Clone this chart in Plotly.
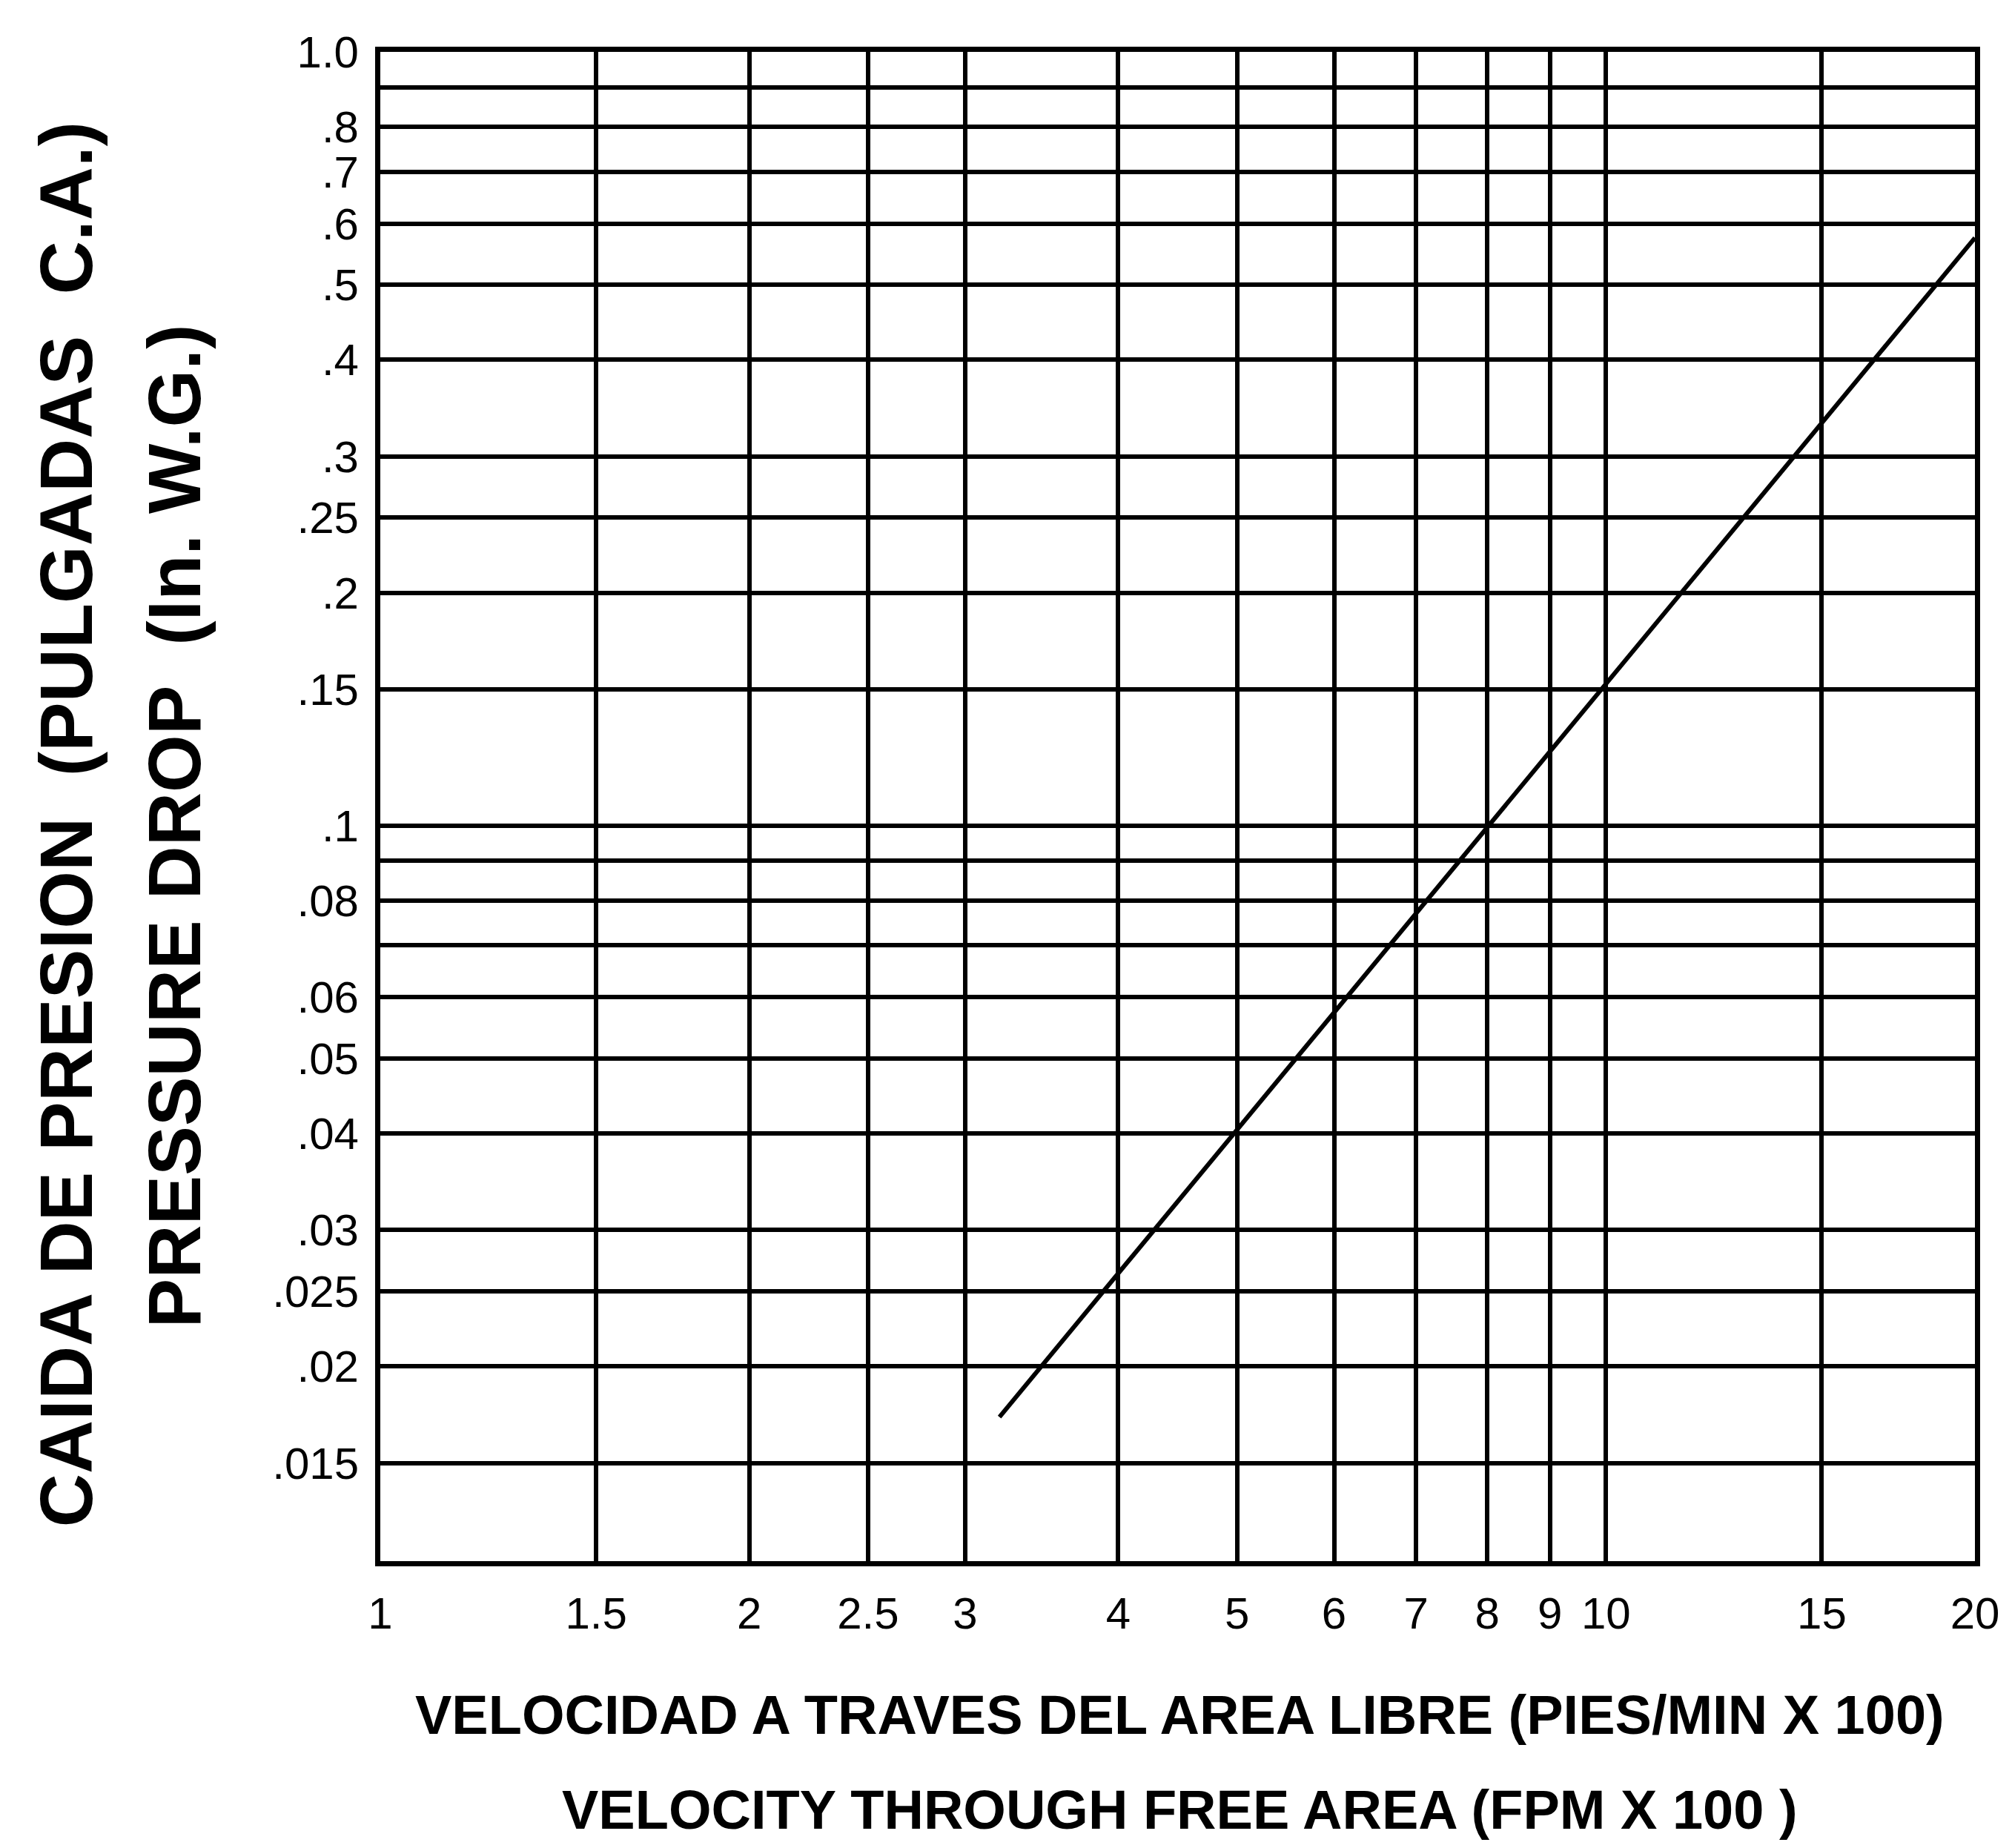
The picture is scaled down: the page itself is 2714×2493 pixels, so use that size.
import math
import plotly.graph_objects as go

# ---- data ----
velocity = [3.2, 20]             # FPM x 100 (line end points)
pressure_drop = [0.0172, 0.575]  # in. W.G.

x_tick_values = [1, 1.5, 2, 2.5, 3, 4, 5, 6, 7, 8, 9, 10, 15, 20]
x_tick_labels = ["1", "1.5", "2", "2.5", "3", "4", "5", "6", "7", "8", "9", "10", "15", "20"]

y_tick_values = [1.0, 0.9, 0.8, 0.7, 0.6, 0.5, 0.4, 0.3, 0.25, 0.2, 0.15,
                 0.1, 0.09, 0.08, 0.07, 0.06, 0.05, 0.04, 0.03, 0.025, 0.02, 0.015]
y_tick_labels = ["1.0", "", ".8", ".7", ".6", ".5", ".4", ".3", ".25", ".2", ".15",
                 ".1", "", ".08", "", ".06", ".05", ".04", ".03", ".025", ".02", ".015"]

x_range = [1, 20]
y_range = [0.0112, 1.0]

y_title_es = "CAIDA DE PRESION  (PULGADAS  C.A.)"
y_title_en = "PRESSURE DROP  (In. W.G.)"
x_title_es = "VELOCIDAD A TRAVES DEL AREA LIBRE (PIES/MIN X 100)"
x_title_en = "VELOCITY THROUGH FREE AREA (FPM X 100 )"

FONT = "Liberation Sans, Arial, Helvetica, sans-serif"

fig = go.Figure()
fig.add_trace(go.Scatter(
    x=velocity, y=pressure_drop, mode="lines",
    line=dict(color="black", width=6), showlegend=False, hoverinfo="skip",
))

fig.update_layout(
    width=2714, height=2493,
    margin=dict(l=505, r=58, t=62, b=395),
    paper_bgcolor="white", plot_bgcolor="white",
    font=dict(family=FONT, color="black", size=60),
    showlegend=False,
)
fig.update_xaxes(
    type="log", range=[math.log10(x_range[0]), math.log10(x_range[1])],
    tickmode="array", tickvals=x_tick_values, ticktext=x_tick_labels,
    showgrid=True, gridcolor="black", gridwidth=6,
    showline=True, linecolor="black", linewidth=7, mirror=True,
    ticks="", ticklabelstandoff=12, zeroline=False,
    tickfont=dict(family=FONT, size=60, color="black"),
)
fig.update_yaxes(
    type="log", range=[math.log10(y_range[0]), math.log10(y_range[1])],
    tickmode="array", tickvals=y_tick_values, ticktext=y_tick_labels,
    showgrid=True, gridcolor="black", gridwidth=6,
    showline=True, linecolor="black", linewidth=7, mirror=True,
    ticks="", ticklabelstandoff=10, zeroline=False,
    tickfont=dict(family=FONT, size=60, color="black"),
)

title_font_y = dict(family=FONT, size=100, color="black", weight="bold")
title_font_x = dict(family=FONT, size=74, color="black", weight="bold")
fig.add_annotation(text=y_title_es, xref="paper", yref="paper", x=-0.1967, y=0.488,
                   textangle=-90, showarrow=False, xanchor="center", yanchor="middle",
                   font=title_font_y)
fig.add_annotation(text=y_title_en, xref="paper", yref="paper", x=-0.1288, y=0.487,
                   textangle=-90, showarrow=False, xanchor="center", yanchor="middle",
                   font=title_font_y)
fig.add_annotation(text=x_title_es, xref="paper", yref="paper", x=0.5016, y=-0.102,
                   showarrow=False, xanchor="center", yanchor="middle", font=title_font_x)
fig.add_annotation(text=x_title_en, xref="paper", yref="paper", x=0.5016, y=-0.165,
                   showarrow=False, xanchor="center", yanchor="middle", font=title_font_x)

fig.write_html("out.html")
